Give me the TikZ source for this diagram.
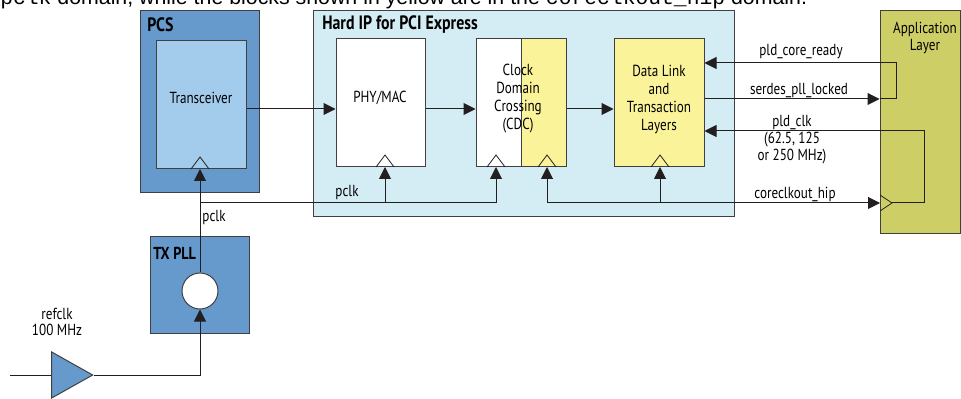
\documentclass[tikz,border=0pt]{standalone}
\usepackage{fontspec}
\setmainfont{PT Sans}[FakeStretch=0.82]
\newfontfamily\sentfont{Liberation Sans}
\newfontfamily\sentmono{Liberation Mono}
\usetikzlibrary{arrows.meta,fit,shapes.geometric,calc}
\definecolor{pcsblue}{HTML}{6699CC}
\definecolor{xcvrblue}{HTML}{A3CBEB}
\definecolor{hipcyan}{HTML}{D4ECF3}
\definecolor{yelw}{HTML}{FAF39A}
\definecolor{appolive}{HTML}{CECE66}
\definecolor{bordercol}{HTML}{404040}
\definecolor{linecol}{HTML}{231F20}
\newcommand\lblfont{\fontsize{12}{13.5}\selectfont}
\newcommand\ttlfont{\bfseries\fontsize{14.5}{16}\selectfont}
\begin{document}
\begin{tikzpicture}[x=0.75pt,y=-0.75pt,
  box/.style={draw=bordercol, line width=0.75pt, inner sep=0pt, rectangle},
  lbl/.style={font=\lblfont, align=center, inner sep=0pt, text=black},
  ttl/.style={font=\ttlfont, anchor=west, inner sep=0pt},
  conn/.style={draw=linecol, line width=0.75pt},
  arr/.style={conn, -{Triangle[length=9pt,width=9pt]}},
  clk/.style={draw=linecol, line width=0.6pt}]
\useasboundingbox (0,0) rectangle (961,399);
\begin{scope}
\clip (0,0) rectangle (961,399);
\node[anchor=base west, inner sep=0pt, font=\sentfont\fontsize{16}{18}\selectfont] (sent) at (0,5)
  {{\sentmono pclk} domain, while the blocks shown in yellow are in the {\sentmono coreclkout\_hip} domain.};
\end{scope}
% PCS
\node[box, fill=pcsblue, fit={(140,11) (259,193)}] (pcs) {};
\node[ttl] (pcst) at (147,25) {PCS};
\node[box, fill=xcvrblue, fit={(156,41) (246,169)}] (xcvr) {};
\node[lbl] (xcvrt) at (201,98) {Transceiver};
% Hard IP
\node[box, fill=hipcyan, fit={(313,11) (734,217)}] (hip) {};
\node[ttl] (hipt) at (322,25) {Hard IP for PCI Express};
\node[box, fill=white, fit={(336,39) (425,167)}] (phy) {};
\node[lbl] (phyt) at (380,98) {PHY/MAC};
\node[box, fill=white, fit={(476,39) (521,167)}] (cdcw) {};
\node[box, fill=yelw, fit={(521,39) (566,167)}] (cdcy) {};
\node[lbl] (cdct) at (518,99) {Clock\\Domain\\Crossing\\(CDC)};
\node[box, fill=yelw, fit={(614,39) (704,167)}] (dl) {};
\node[lbl] (dlt) at (659,99) {Data Link\\and\\Transaction\\Layers};
% Application layer
\node[box, fill=appolive, fit={(880,11) (960,234)}] (app) {};
\node[lbl, font=\fontsize{12}{12.5}\selectfont] (appt) at (925,38) {Application\\Layer};
% TX PLL
\node[box, fill=pcsblue, fit={(150,237) (249,333)}] (txpll) {};
\node[ttl, font=\bfseries\fontsize{13}{15}\selectfont] (txpllt) at (153,253) {TX PLL};
\node[circle, draw=bordercol, line width=0.75pt, fill=white, minimum size=27pt, inner sep=0pt] (osc) at (200,291) {};
% buffer
\node[isosceles triangle, isosceles triangle stretches, draw=bordercol, line width=0.75pt, fill=pcsblue,
  minimum width=34.5pt, minimum height=30.75pt, inner sep=0pt, anchor=apex] (buf) at (94,375) {};
\coordinate (refin) at (10,375);
\node[lbl, font=\fontsize{12}{11.5}\selectfont] (reft) at (57,322) {refclk\\100 MHz};
% clock points
\coordinate (ckx) at (200,169);
\coordinate (ckp) at (385,167);
\coordinate (ckw) at (496,167);
\coordinate (cky) at (547,167);
\coordinate (ckd) at (660,167);
\coordinate (appclk) at (880,203);
\foreach \c in {ckx,ckp,ckw,cky,ckd}
  \draw[clk] ($(\c)+(-9,0)$) -- ($(\c)+(0,-12)$) -- ($(\c)+(9,0)$);
\draw[clk] ($(appclk)+(0,-8)$) -- ($(appclk)+(12,0)$) -- ($(appclk)+(0,8)$);
% data path
\draw[arr] (xcvr.east |- 0,109) -- (phy.west |- 0,109);
\draw[arr] (phy.east |- 0,109) -- (cdcw.west |- 0,109);
\draw[arr] (cdcy.east |- 0,109) -- (dl.west |- 0,109);
% handshake
\draw[arr] (dl.east |- 0,99) -- (app.west |- 0,99);
\draw[arr] (app.west |- 0,99) -- ++(17,0) |- (dl.east |- 0,63);
\draw[arr] ($(appclk)+(12,0)$) -- ++(32,0) |- (dl.east |- 0,131);
% coreclkout_hip
\draw[arr] (cky |- 0,203) -- (appclk);
\draw[arr] (cky |- 0,203) -- (cky);
\draw[arr] (ckd |- 0,203) -- (ckd);
% pclk
\draw[arr] (osc.north) -- (ckx);
\draw[arr] (ckx |- 0,203) -| (ckw);
\draw[arr] (ckp |- 0,203) -- (ckp);
% refclk
\draw[conn] (refin) -- (buf.west);
\draw[arr] (buf.apex) -| (osc.south);
% labels
\node[lbl] (l1) at (801,52) {pld\_core\_ready};
\node[lbl] (l2) at (799,91) {serdes\_pll\_locked};
\node[lbl, font=\fontsize{12}{13}\selectfont] (l3) at (792,139.5) {pld\_clk\\(62.5, 125\\or 250 MHz)};
\node[lbl] (l4) at (795,194) {coreclkout\_hip};
\node[lbl] (l5) at (347,193) {pclk};
\node[lbl] (l6) at (214,218) {pclk};
\end{tikzpicture}
\end{document}
